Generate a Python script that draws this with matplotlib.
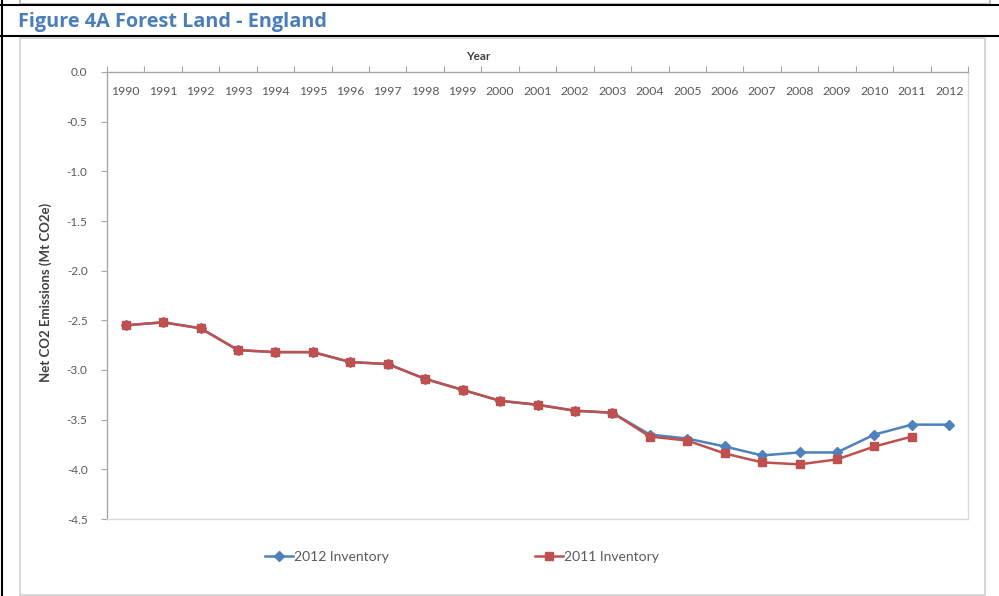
import matplotlib.pyplot as plt
from matplotlib.lines import Line2D
from matplotlib.patches import Rectangle
from matplotlib.ticker import FormatStrFormatter

plt.rcParams["font.family"] = ["Lato", "DejaVu Sans"]
plt.rcParams["axes.unicode_minus"] = False

years = [str(y) for y in range(1990, 2013)]
inv_2012 = [-2.55, -2.52, -2.58, -2.80, -2.82, -2.82, -2.92, -2.94, -3.09, -3.20,
            -3.31, -3.35, -3.41, -3.43, -3.65, -3.69, -3.77, -3.86, -3.83, -3.83,
            -3.65, -3.55, -3.55]
inv_2011 = [-2.55, -2.52, -2.58, -2.80, -2.82, -2.82, -2.92, -2.94, -3.09, -3.20,
            -3.31, -3.35, -3.41, -3.43, -3.67, -3.71, -3.84, -3.93, -3.95, -3.90,
            -3.77, -3.67]
y_ticks = [0.0, -0.5, -1.0, -1.5, -2.0, -2.5, -3.0, -3.5, -4.0, -4.5]

BLUE = "#4F81BD"
RED = "#C0504D"
GRID = "#A6A6A6"

W, H = 999, 596
fig = plt.figure(figsize=(W / 100, H / 100), dpi=100)


def fx(px):
    return px / W


def fy(py):
    return 1 - py / H


# document table lines and the previous figure's frame edge
fig.add_artist(Rectangle((fx(20), fy(4)), fx(970), fy(-10) - fy(4), transform=fig.transFigure,
                         facecolor="white", edgecolor="#BFBFBF", lw=1.5))
for yy in (5, 36):
    fig.add_artist(Line2D([0, 1], [fy(yy), fy(yy)], transform=fig.transFigure, color="black", lw=1.5))
fig.add_artist(Line2D([fx(1.5), fx(1.5)], [0, 1], transform=fig.transFigure, color="black", lw=1.5))
fig.text(fx(18), fy(22), "Figure 4A Forest Land - England", color="#4A7EBB",
         fontsize=14.3, fontweight="bold", va="center", ha="left", family=["Open Sans", "DejaVu Sans"])

# chart frame
fig.add_artist(Rectangle((fx(20), fy(595)), fx(965), fy(38) - fy(595), transform=fig.transFigure,
                         facecolor="none", edgecolor="#D0D0D0", lw=1.2))

ax = fig.add_axes([fx(107), fy(519), fx(861), fy(72) - fy(519)])
x = list(range(len(years)))
ax.plot(x, inv_2012, color=BLUE, lw=1.8, marker="D", markersize=5, label="2012 Inventory", zorder=3)
ax.plot(x[:len(inv_2011)], inv_2011, color=RED, lw=1.8, marker="s", markersize=5.5,
        label="2011 Inventory", zorder=4)

ax.set_xlim(-0.5, len(years) - 0.5)
ax.set_ylim(-4.5, 0)
ax.set_yticks(y_ticks)
ax.yaxis.set_major_formatter(FormatStrFormatter("%.1f"))
ax.tick_params(axis="y", labelsize=8.5, colors="#595959", length=4, color=GRID, pad=10)

for s in ax.spines.values():
    s.set_color("#D9D9D9")
    s.set_linewidth(1)
ax.spines["left"].set_color(GRID)
ax.spines["top"].set_color(GRID)

# category axis along the top at 0.0, labels sit just under it
ax.set_xticks([i - 0.5 for i in range(len(years) + 1)])
ax.set_xticklabels([])
ax.tick_params(axis="x", bottom=False, top=True, length=4, color=GRID)
for i, yr in enumerate(years):
    ax.text(i, -0.2, yr, ha="center", va="center", fontsize=8.8, color="#595959")

fig.text(fx(478), fy(56), "Year", ha="center", va="center", fontsize=8.5, fontweight="bold", color="#404040")
fig.text(fx(46), fy(292), "Net CO2 Emissions (Mt CO2e)", rotation=90, ha="center", va="center",
         fontsize=9.5, fontweight="bold", color="#404040")

fig.legend(loc="center", bbox_to_anchor=(fx(462), fy(557)), ncol=2, frameon=False,
           fontsize=10, columnspacing=10.5, handlelength=2.0, handletextpad=0.1,
           labelcolor="#595959")

fig.savefig("out.png", dpi=100)
